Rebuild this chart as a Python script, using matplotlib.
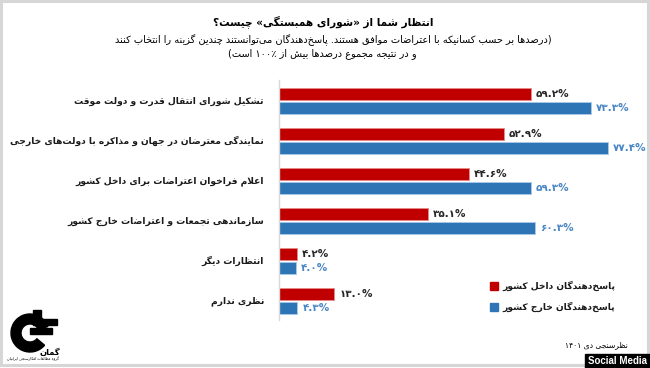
import re
import matplotlib
matplotlib.use("Agg")
import matplotlib.pyplot as plt
from matplotlib.patches import Rectangle, Wedge

# data
categories = [
    "تشکیل شورای انتقال قدرت و دولت موقت",
    "نمایندگی معترضان در جهان و مذاکره با دولت‌های خارجی",
    "اعلام فراخوان اعتراضات برای داخل کشور",
    "سازماندهی تجمعات و اعتراضات خارج کشور",
    "انتظارات دیگر",
    "نظری ندارم",
]
inside = [59.2, 52.9, 44.6, 35.1, 4.2, 13.0]
outside = [73.3, 77.4, 59.3, 60.3, 4.0, 4.3]
series_names = ["پاسخ‌دهندگان داخل کشور", "پاسخ‌دهندگان خارج کشور"]
title = "انتظار شما از «شورای همبستگی» چیست؟"
subtitle = [
    "(درصدها بر حسب کسانیکه با اعتراضات موافق هستند. پاسخ‌دهندگان می‌توانستند چندین گزینه را انتخاب کنند",
    "و در نتیجه مجموع درصدها بیش از ۱۰۰٪ است)",
]
source = "نظرسنجی دی ۱۴۰۱"

RED = "#C00000"
BLUE = "#2E75B6"

# --- minimal persian shaping (matplotlib does no arabic shaping / bidi) ---
FORMS = {
    'ء': ('\uFE80', None, None, None),
    'آ': ('\uFE81', '\uFE82', None, None),
    'أ': ('\uFE83', '\uFE84', None, None),
    'ؤ': ('\uFE85', '\uFE86', None, None),
    'إ': ('\uFE87', '\uFE88', None, None),
    'ئ': ('\uFE89', '\uFE8A', '\uFE8B', '\uFE8C'),
    'ا': ('\uFE8D', '\uFE8E', None, None),
    'ب': ('\uFE8F', '\uFE90', '\uFE91', '\uFE92'),
    'ة': ('\uFE93', '\uFE94', None, None),
    'ت': ('\uFE95', '\uFE96', '\uFE97', '\uFE98'),
    'ث': ('\uFE99', '\uFE9A', '\uFE9B', '\uFE9C'),
    'ج': ('\uFE9D', '\uFE9E', '\uFE9F', '\uFEA0'),
    'ح': ('\uFEA1', '\uFEA2', '\uFEA3', '\uFEA4'),
    'خ': ('\uFEA5', '\uFEA6', '\uFEA7', '\uFEA8'),
    'د': ('\uFEA9', '\uFEAA', None, None),
    'ذ': ('\uFEAB', '\uFEAC', None, None),
    'ر': ('\uFEAD', '\uFEAE', None, None),
    'ز': ('\uFEAF', '\uFEB0', None, None),
    'س': ('\uFEB1', '\uFEB2', '\uFEB3', '\uFEB4'),
    'ش': ('\uFEB5', '\uFEB6', '\uFEB7', '\uFEB8'),
    'ص': ('\uFEB9', '\uFEBA', '\uFEBB', '\uFEBC'),
    'ض': ('\uFEBD', '\uFEBE', '\uFEBF', '\uFEC0'),
    'ط': ('\uFEC1', '\uFEC2', '\uFEC3', '\uFEC4'),
    'ظ': ('\uFEC5', '\uFEC6', '\uFEC7', '\uFEC8'),
    'ع': ('\uFEC9', '\uFECA', '\uFECB', '\uFECC'),
    'غ': ('\uFECD', '\uFECE', '\uFECF', '\uFED0'),
    'ف': ('\uFED1', '\uFED2', '\uFED3', '\uFED4'),
    'ق': ('\uFED5', '\uFED6', '\uFED7', '\uFED8'),
    'ك': ('\uFED9', '\uFEDA', '\uFEDB', '\uFEDC'),
    'ل': ('\uFEDD', '\uFEDE', '\uFEDF', '\uFEE0'),
    'م': ('\uFEE1', '\uFEE2', '\uFEE3', '\uFEE4'),
    'ن': ('\uFEE5', '\uFEE6', '\uFEE7', '\uFEE8'),
    'ه': ('\uFEE9', '\uFEEA', '\uFEEB', '\uFEEC'),
    'و': ('\uFEED', '\uFEEE', None, None),
    'ى': ('\uFEEF', '\uFEF0', None, None),
    'ي': ('\uFEF1', '\uFEF2', '\uFEF3', '\uFEF4'),
    'پ': ('\uFB56', '\uFB57', '\uFB58', '\uFB59'),
    'چ': ('\uFB7A', '\uFB7B', '\uFB7C', '\uFB7D'),
    'ژ': ('\uFB8A', '\uFB8B', None, None),
    'ک': ('\uFB8E', '\uFB8F', '\uFB90', '\uFB91'),
    'گ': ('\uFB92', '\uFB93', '\uFB94', '\uFB95'),
    'ی': ('\uFBFC', '\uFBFD', '\uFBFE', '\uFBFF'),
}
LAM_ALEF = {'ا': ('\uFEFB', '\uFEFC'), 'آ': ('\uFEF5', '\uFEF6'),
            'أ': ('\uFEF7', '\uFEF8'), 'إ': ('\uFEF9', '\uFEFA')}
MIRROR = {'(': ')', ')': '(', '«': '»', '»': '«'}


def shape(text):
    def joins_next(c):
        return c in FORMS and FORMS[c][2] is not None

    def is_letter(c):
        return c in FORMS and c != 'ء'

    out = []
    i, n = 0, len(text)
    while i < n:
        c = text[i]
        if c not in FORMS:
            out.append(c)
            i += 1
            continue
        prev = text[i - 1] if i > 0 else ''
        cp = joins_next(prev) and is_letter(c)
        if c == 'ل' and i + 1 < n and text[i + 1] in LAM_ALEF:
            iso, fin = LAM_ALEF[text[i + 1]]
            out.append(fin if cp else iso)
            i += 2
            continue
        nxt = text[i + 1] if i + 1 < n else ''
        cn = joins_next(c) and is_letter(nxt)
        f = FORMS[c]
        if cp and cn:
            out.append(f[3])
        elif cp:
            out.append(f[1])
        elif cn:
            out.append(f[2])
        else:
            out.append(f[0])
        i += 1
    return ''.join(out).replace('\u200c', '')


def fa(text):
    s = shape(text)
    tokens = re.findall(r'[0-9۰-۹][0-9۰-۹.٪%]*|.', s)
    return ''.join(MIRROR.get(t, t) for t in reversed(tokens))


def fa_num(v):
    return f"{v:.1f}".translate(str.maketrans("0123456789", "۰۱۲۳۴۵۶۷۸۹")) + "%"


W, H = 650, 368
fig = plt.figure(figsize=(W / 100, H / 100), dpi=100)
fig.patch.set_facecolor("white")

# background layer in pixel coords
bg = fig.add_axes([0, 0, 1, 1])
bg.set_xlim(0, W)
bg.set_ylim(H, 0)
bg.axis("off")
bg.add_patch(Rectangle((1, 1), W - 3, H - 4, fill=False, edgecolor="#d6d6d6", lw=2.2))

FONT = "DejaVu Sans"
bg.text(323, 22, fa(title), ha="center", va="center", fontsize=7.6, fontweight="bold", family=FONT)
bg.text(333, 40, fa(subtitle[0]), ha="center", va="center", fontsize=7, family=FONT)
bg.text(322, 54, fa(subtitle[1]), ha="center", va="center", fontsize=7, family=FONT)

# bar axes: x from 279 px, 4.25 px per percent; groups every 40 px from y=101
x0, ppp = 279, 4.25
top, bot = 80, 320
ax = fig.add_axes([x0 / W, (H - bot) / H, (W - x0) / W, (bot - top) / H])
ax.set_xlim(0, (W - x0) / ppp)
ax.set_ylim(5 + (bot - 301) / 40, -(101 - top) / 40)
ax.patch.set_alpha(0)
for s in ["top", "right", "bottom"]:
    ax.spines[s].set_visible(False)
ax.spines["left"].set_color("#d9d9d9")
ax.spines["left"].set_linewidth(1)
ax.set_xticks([])
ax.set_yticks([])

ypos = list(range(len(categories)))
off, bh = 0.175, 0.31
ax.barh([y - off for y in ypos], inside, height=bh, color=RED, edgecolor="#e88a8a", linewidth=0.7)
ax.barh([y + off for y in ypos], outside, height=bh, color=BLUE, edgecolor="#a9c8e8", linewidth=0.7)

for y, a, b in zip(ypos, inside, outside):
    ax.text(a + 1.2, y - off, fa_num(a), ha="left", va="center", fontsize=7.5,
            fontweight="bold", color="#262626", family=FONT)
    ax.text(b + 1.2, y + off, fa_num(b), ha="left", va="center", fontsize=7.5,
            fontweight="bold", color="#4a86c5", family=FONT)

for i, cat in enumerate(categories):
    bg.text(264, 101 + 40 * i, fa(cat), ha="right", va="center", fontsize=6.6,
            fontweight="bold", color="#1a1a1a", family=FONT)

# legend
for j, (name, col) in enumerate(zip(series_names, [RED, BLUE])):
    yy = 286 + 21 * j
    bg.add_patch(Rectangle((490, yy - 4), 7.5, 8, color=col))
    bg.text(502, yy, fa(name), ha="left", va="center", fontsize=6.6,
            fontweight="bold", color="#1a1a1a", family=FONT)

# source + badge
bg.text(628, 345, fa(source), ha="right", va="center", fontsize=5.5, family=FONT)
bg.add_patch(Rectangle((585, 354), 65, 14, color="black"))
bg.text(617, 361, "Social Media", ha="center", va="center", fontsize=7,
        fontweight="bold", color="white", family="Liberation Sans")

# rough logo
bg.add_patch(Wedge((30, 333), 19, 40, 340, width=10, color="black"))
bg.add_patch(Rectangle((33, 310), 8, 10, color="black"))
bg.add_patch(Rectangle((33, 319), 24, 6, color="black"))
bg.add_patch(Rectangle((30, 328), 22, 6, color="black"))
bg.text(50, 352, fa("گمان"), ha="center", va="center", fontsize=6, fontweight="bold", family=FONT)
bg.text(33, 359, fa("گروه مطالعات افکارسنجی ایرانیان"), ha="center", va="center", fontsize=2.6, family=FONT)

fig.savefig("out.png", dpi=100)
